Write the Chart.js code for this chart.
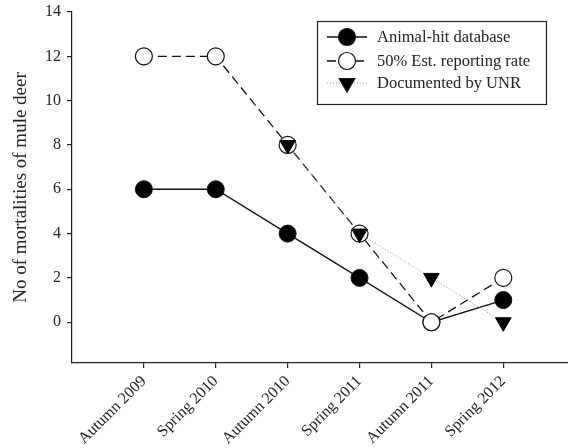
<!DOCTYPE html>
<html><head><meta charset="utf-8">
<script src="https://cdn.jsdelivr.net/npm/chart.js@4/dist/chart.umd.min.js"></script>
<style>html,body{margin:0;padding:0;background:#fff}#wrap{width:568px;height:448px}</style>
</head><body><div id="wrap"><canvas id="c" width="568" height="448"></canvas></div>
<script>
const categories = ['Autumn 2009','Spring 2010','Autumn 2010','Spring 2011','Autumn 2011','Spring 2012'];
const animalHit = [6, 6, 4, 2, 0, 1];
const estimated50 = [12, 12, 8, 4, 0, 2];
const documentedUNR = [null, null, 8, 4, 2, 0];
const yTicks = [0, 2, 4, 6, 8, 10, 12, 14];
const seriesLabels = ['Animal-hit database', '50% Est. reporting rate', 'Documented by UNR'];

const FONT = '"Liberation Serif", "Times New Roman", serif';
const toXY = arr => arr.map((v, i) => ({x: i, y: v}));

const legendPlugin = {
  id: 'customLegend',
  afterDraw(chart) {
    const ctx = chart.ctx;
    ctx.save();
    ctx.strokeStyle = '#222'; ctx.lineWidth = 1.2;
    ctx.strokeRect(317.5, 21.5, 229, 83);
    const rows = [37, 61, 83];
    const ds = chart.data.datasets;
    ctx.font = '16.5px ' + FONT; ctx.fillStyle = '#222'; ctx.textBaseline = 'middle'; ctx.textAlign = 'left';
    ds.forEach((d, i) => {
      const y = rows[i];
      ctx.save();
      ctx.strokeStyle = d.borderColor; ctx.lineWidth = d.borderWidth;
      ctx.setLineDash(d.borderDash || []);
      ctx.beginPath(); ctx.moveTo(327, y); ctx.lineTo(367, y); ctx.stroke();
      ctx.setLineDash([]);
      ctx.fillStyle = d.pointBackgroundColor; ctx.strokeStyle = '#111'; ctx.lineWidth = 1.2;
      ctx.beginPath();
      if (d.pointStyle === 'triangle') {
        const r = d.pointRadius;
        ctx.moveTo(347 - r*0.866, y - r*0.5); ctx.lineTo(347 + r*0.866, y - r*0.5); ctx.lineTo(347, y + r); ctx.closePath();
      } else {
        ctx.arc(347, y, d.pointRadius, 0, Math.PI*2);
      }
      ctx.fill(); ctx.stroke();
      ctx.restore();
      ctx.fillText(d.label, 377, y + 1);
    });
    ctx.restore();
  }
};

new Chart(document.getElementById('c'), {
  type: 'line',
  data: {
    datasets: [
      { label: seriesLabels[0], data: toXY(animalHit), order: 2,
        borderColor: '#111', borderWidth: 1.3, pointStyle: 'circle', pointRadius: 8.5,
        pointBackgroundColor: '#000', pointBorderColor: '#111', pointBorderWidth: 1 },
      { label: seriesLabels[1], data: toXY(estimated50), order: 1,
        borderColor: '#111', borderWidth: 1.3, borderDash: [9, 5], pointStyle: 'circle', pointRadius: 8.5,
        pointBackgroundColor: '#fff', pointBorderColor: '#111', pointBorderWidth: 1.2 },
      { label: seriesLabels[2], data: toXY(documentedUNR), order: 0, spanGaps: false,
        borderColor: '#999', borderWidth: 1, borderDash: [1, 2], pointStyle: 'triangle', pointRotation: 180, pointRadius: 9,
        pointBackgroundColor: '#000', pointBorderColor: '#000', pointBorderWidth: 1 }
    ]
  },
  options: {
    responsive: false, animation: false, devicePixelRatio: 1,
    layout: { autoPadding: false, padding: { top: 0, right: 0, left: 0, bottom: 0 } },
    plugins: { legend: { display: false }, tooltip: { enabled: false } },
    elements: { line: { tension: 0 } },
    scales: {
      x: {
        type: 'linear', min: -1, max: 5.9,
        afterBuildTicks: ax => { ax.ticks = categories.map((c, i) => ({ value: i })); },
        afterFit: ax => { ax.height = 85; ax.paddingRight = 0; ax.paddingLeft = 0; },
        grid: { drawOnChartArea: false, drawTicks: true, tickLength: 5, color: '#222', lineWidth: 1.2 },
        border: { display: true, color: '#222', width: 1.2 },
        ticks: { maxRotation: 45, minRotation: 45, autoSkip: false, color: '#222', padding: 4,
          font: { family: FONT, size: 16 }, callback: v => categories[v] }
      },
      y: {
        type: 'linear', min: -1.84, max: 14,
        afterBuildTicks: ax => { ax.ticks = yTicks.map(v => ({ value: v })); },
        afterFit: ax => { ax.width = 72; ax.paddingTop = 12; ax.paddingBottom = 0; },
        grid: { drawOnChartArea: false, drawTicks: true, tickLength: 5, color: '#222', lineWidth: 1.2 },
        border: { display: true, color: '#222', width: 1.2 },
        ticks: { color: '#222', padding: 6, font: { family: FONT, size: 16 } },
        title: { display: true, text: 'No of mortalities of mule deer', color: '#222',
          font: { family: FONT, size: 19 }, padding: { top: 10, bottom: 4 } }
      }
    }
  },
  plugins: [legendPlugin]
});
</script></body></html>
